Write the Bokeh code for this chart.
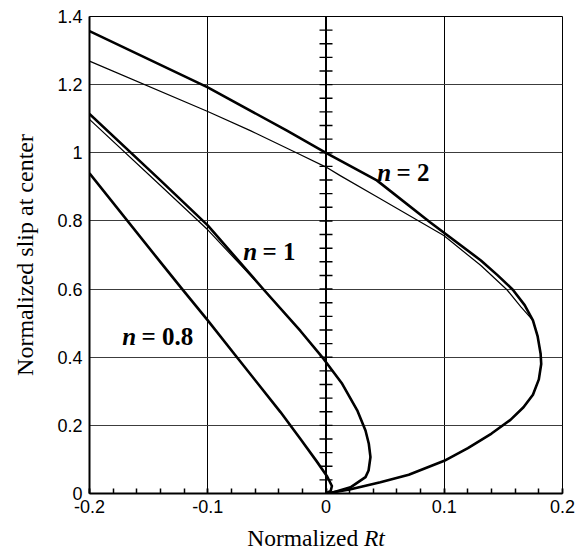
import numpy as np
from bokeh.plotting import figure
from bokeh.layouts import column
from bokeh.models import FixedTicker, CustomJSTickFormatter, Span, ColumnDataSource
from bokeh.core.properties import value
from bokeh.embed import file_html
from bokeh.resources import INLINE

# ---- data: normalized Rt (x) vs normalized slip at center (y) ----
n2_thick_x = [-0.200, -0.100, -0.033, 0.000, 0.043, 0.088, 0.131, 0.145, 0.158, 0.168,
              0.175, 0.179, 0.1815, 0.182, 0.180, 0.175, 0.167, 0.156, 0.140, 0.120,
              0.100, 0.070, 0.046, 0.020, 0.000]
n2_thick_y = [1.357, 1.192, 1.065, 1.000, 0.919, 0.796, 0.684, 0.641, 0.598, 0.553,
              0.508, 0.461, 0.410, 0.380, 0.335, 0.290, 0.253, 0.216, 0.176, 0.133,
              0.096, 0.055, 0.033, 0.012, 0.000]

n2_thin_x = [-0.200, -0.100, -0.064, -0.022, 0.000, 0.012, 0.043, 0.0996, 0.131, 0.153,
             0.165, 0.175, 0.179, 0.1815, 0.182, 0.180, 0.175, 0.167, 0.156, 0.140,
             0.120, 0.100, 0.070, 0.046, 0.020, 0.000]
n2_thin_y = [1.269, 1.121, 1.065, 0.995, 0.958, 0.933, 0.871, 0.757, 0.669, 0.598,
             0.547, 0.508, 0.461, 0.410, 0.380, 0.335, 0.290, 0.253, 0.216, 0.176,
             0.133, 0.096, 0.055, 0.033, 0.012, 0.000]

n1_thick_x = [-0.200, -0.140, -0.100, -0.0526, -0.0216, -0.002, 0.0137, 0.0264, 0.0334,
              0.0362, 0.0376, 0.036, 0.0334, 0.0207, 0.005, 0.000]
n1_thick_y = [1.114, 0.919, 0.787, 0.598, 0.477, 0.395, 0.322, 0.244, 0.185,
              0.146, 0.107, 0.0675, 0.048, 0.018, 0.002, 0.000]

n1_thin_x = [-0.200, -0.140, -0.100, -0.0526, -0.0216, -0.002, 0.0137, 0.0264, 0.0334,
             0.0362, 0.0376, 0.036, 0.0334, 0.0207, 0.005, 0.000]
n1_thin_y = [1.098, 0.904, 0.774, 0.598, 0.477, 0.395, 0.322, 0.244, 0.185,
             0.146, 0.107, 0.0675, 0.048, 0.018, 0.002, 0.000]

n08_x = [-0.200, -0.140, -0.1216, -0.100, -0.0765, -0.0385, -0.0216, -0.008, 0.001,
         0.005, 0.004, 0.000]
n08_y = [0.940, 0.679, 0.600, 0.508, 0.405, 0.239, 0.160, 0.095, 0.050,
         0.022, 0.008, 0.000]

# curve annotations (left end of text, baseline)
label_x = [-0.1723, -0.0700, 0.0433]
label_y = [0.462, 0.711, 0.943]
label_rest = ["= 0.8", "= 1", "= 2"]

x_ticks = [-0.2, -0.1, 0.0, 0.1, 0.2]
y_ticks = [0.0, 0.2, 0.4, 0.6, 0.8, 1.0, 1.2, 1.4]
x_minor = [round(float(v), 2) for v in np.arange(-0.2, 0.2001, 0.02)]
center_ticks = [round(float(v), 2) for v in np.arange(0.04, 1.3801, 0.04)]

SERIF = "Liberation Serif"
SANS = "Liberation Sans"

p = figure(width=582, height=522, x_range=(-0.2, 0.2), y_range=(0, 1.4),
           output_backend="svg", toolbar_location=None, title=None, margin=(0, 0, 0, 0),
           min_border_left=89, min_border_right=20, min_border_top=16, min_border_bottom=29)
p.background_fill_color = "white"
p.border_fill_color = "white"
p.outline_line_color = "black"
p.outline_line_width = 1
p.outline_line_alpha = 1.0

fmt = CustomJSTickFormatter(code="return Math.abs(tick) < 1e-9 ? '0' : String(Math.round(tick * 10) / 10);")

# bottom axis
xa = p.xaxis[0]
xa.ticker = FixedTicker(ticks=x_ticks, minor_ticks=x_minor)
xa.formatter = fmt
xa.axis_line_width = 2
xa.axis_line_color = "black"
xa.major_tick_in = 5
xa.major_tick_out = 0
xa.minor_tick_in = 5
xa.minor_tick_out = 0
xa.major_tick_line_width = 1.5
xa.minor_tick_line_width = 1.5
xa.major_label_standoff = 6
xa.major_label_text_font = SANS
xa.major_label_text_font_size = "18px"
xa.major_label_text_color = "black"

# left axis
ya = p.yaxis[0]
ya.ticker = FixedTicker(ticks=y_ticks)
ya.formatter = fmt
ya.axis_line_width = 2
ya.axis_line_color = "black"
ya.major_tick_in = 0
ya.major_tick_out = 0
ya.minor_tick_in = 0
ya.minor_tick_out = 0
ya.major_label_standoff = 7
ya.major_label_text_font = SANS
ya.major_label_text_font_size = "18px"
ya.major_label_text_color = "black"
ya.axis_label = "Normalized slip at center"
ya.axis_label_text_font = SERIF
ya.axis_label_text_font_style = "normal"
ya.axis_label_text_font_size = "24px"
ya.axis_label_text_color = "black"
ya.axis_label_standoff = 16

# grid
p.xgrid.ticker = FixedTicker(ticks=[-0.1, 0.1])
p.xgrid.grid_line_color = "black"
p.xgrid.grid_line_width = 1
p.ygrid.ticker = FixedTicker(ticks=[0.2, 0.4, 0.6, 0.8, 1.0, 1.2])
p.ygrid.grid_line_color = "#3c3c3c"
p.ygrid.grid_line_width = 1.1

# vertical axis line through Rt = 0 with crossing ticks
p.add_layout(Span(location=0, dimension="height", line_color="black", line_width=2))
p.scatter(x=[0.0] * len(center_ticks), y=center_ticks, marker="dash", size=13,
          line_color="black", line_width=1.4)

# curves
p.line(n2_thin_x, n2_thin_y, line_color="black", line_width=1.2, line_join="round")
p.line(n2_thick_x, n2_thick_y, line_color="black", line_width=2.6, line_join="round")
p.line(n1_thin_x, n1_thin_y, line_color="black", line_width=1.2, line_join="round")
p.line(n1_thick_x, n1_thick_y, line_color="black", line_width=2.6, line_join="round")
p.line(n08_x, n08_y, line_color="black", line_width=2.6, line_join="round")

# curve labels: italic n followed by upright "= value"
lbl = ColumnDataSource(dict(x=label_x, y=label_y, n=["n"] * 3, rest=label_rest))
p.text(x="x", y="y", text="n", source=lbl, text_font=value(SERIF),
       text_font_style="bold italic", text_font_size="25px", text_baseline="alphabetic",
       text_color="black")
p.text(x="x", y="y", text="rest", source=lbl, x_offset=19.3, text_font=value(SERIF),
       text_font_style="bold", text_font_size="25px", text_baseline="alphabetic",
       text_color="black")

# strip under the plot carrying the x-axis title, with the symbol Rt in italics
t = figure(width=582, height=31, x_range=p.x_range, y_range=(0, 1),
           output_backend="svg", toolbar_location=None, title=None, margin=(0, 0, 0, 0),
           x_axis_location=None, y_axis_location=None,
           min_border_left=89, min_border_right=20, min_border_top=0, min_border_bottom=0)
t.outline_line_color = None
t.xgrid.visible = False
t.ygrid.visible = False
t.background_fill_color = "white"
t.border_fill_color = "white"
t.text(x=[-0.0666], y=[0.516], text=["Normalized"], text_font=value(SERIF),
       text_font_size="23.5px", text_baseline="alphabetic", text_color="black")
t.text(x=[0.0321], y=[0.516], text=["Rt"], text_font=value(SERIF), text_font_style="italic",
       text_font_size="23.5px", text_baseline="alphabetic", text_color="black")

layout = column(p, t, spacing=0, margin=(0, 0, 0, 0))
open("out.html", "w").write(file_html(layout, INLINE))
